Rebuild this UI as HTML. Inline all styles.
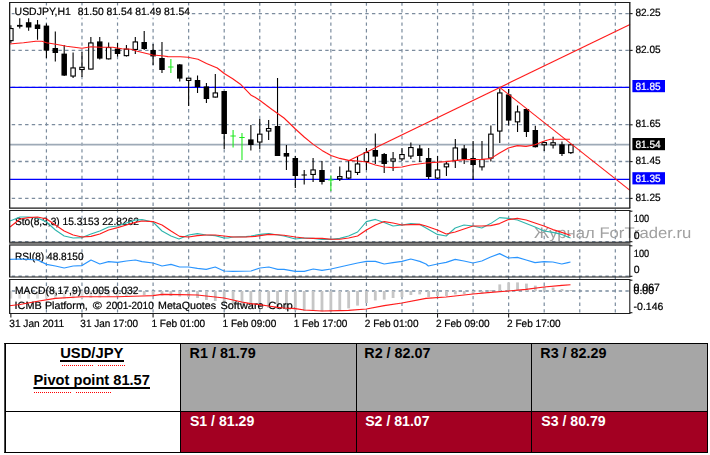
<!DOCTYPE html><html><head><meta charset="utf-8"><style>html,body{margin:0;padding:0;background:#fff}svg{display:block}text{font-family:'Liberation Sans',sans-serif;text-rendering:geometricPrecision}.tb text{text-rendering:auto}</style></head><body>
<svg width="710" height="455" viewBox="0 0 710 455">
<rect width="710" height="455" fill="#fff"/>
<defs><clipPath id="cm"><rect x="9.65" y="2.4" width="620.15" height="205.6"/></clipPath></defs>
<defs><filter id="bl" x="-2%" y="-2%" width="104%" height="104%"><feGaussianBlur stdDeviation="0.40"/></filter></defs>
<g filter="url(#bl)">
<g stroke="#7b8c9e" stroke-width="1.2" stroke-dasharray="3.4 3.27" fill="none">
<path d="M46.42 2.4V313.4"/>
<path d="M81.98 2.4V313.4"/>
<path d="M117.53 2.4V313.4"/>
<path d="M153.09 2.4V313.4"/>
<path d="M188.64 2.4V313.4"/>
<path d="M224.20 2.4V313.4"/>
<path d="M259.76 2.4V313.4"/>
<path d="M295.31 2.4V313.4"/>
<path d="M330.87 2.4V313.4"/>
<path d="M366.42 2.4V313.4"/>
<path d="M401.98 2.4V313.4"/>
<path d="M437.54 2.4V313.4"/>
<path d="M473.09 2.4V313.4"/>
<path d="M508.65 2.4V313.4"/>
<path d="M544.20 2.4V313.4"/>
<path d="M579.76 2.4V313.4"/>
<path d="M615.32 2.4V313.4"/>
<path d="M9.65 13.60H629.80" stroke-dashoffset="-2.1" stroke-width="1.4"/>
<path d="M9.65 50.40H629.80" stroke-dashoffset="-2.1" stroke-width="1.4"/>
<path d="M9.65 87.40H629.80" stroke-dashoffset="-2.1" stroke-width="1.4"/>
<path d="M9.65 124.60H629.80" stroke-dashoffset="-2.1" stroke-width="1.4"/>
<path d="M9.65 161.50H629.80" stroke-dashoffset="-2.1" stroke-width="1.4"/>
<path d="M9.65 198.40H629.80" stroke-dashoffset="-2.1" stroke-width="1.4"/>
<path d="M9.65 241.60H629.80" stroke-dashoffset="-2.1" stroke-width="1.4"/>
<path d="M9.65 276.10H629.80" stroke-dashoffset="-2.1" stroke-width="1.4"/>
<path d="M9.65 291.00H629.80" stroke-dashoffset="-2.1" stroke-width="1.4"/>
</g>
<text x="534.00" y="238.00" font-size="15.40" fill="#a0a0a0" textLength="157.4" lengthAdjust="spacingAndGlyphs" >Журнал ForTrader.ru</text>
<rect x="14.5" y="5.6" width="176" height="12" fill="#fff"/>
<text x="14.60" y="15.35" font-size="10.50" fill="#000" stroke="#000" stroke-width="0.22" textLength="56.2" lengthAdjust="spacingAndGlyphs" >USDJPY,H1</text>
<text x="77.80" y="15.35" font-size="10.50" fill="#000" stroke="#000" stroke-width="0.22" textLength="112.2" lengthAdjust="spacingAndGlyphs" >81.50 81.54 81.49 81.54</text>
<path d="M9.65 144.6H629.80" stroke="#9eaab7" stroke-width="1.8"/>
<path d="M9.65 87.4H629.80" stroke="#0000ff" stroke-width="1.15"/>
<path d="M9.65 179.3H629.80" stroke="#0000ff" stroke-width="1.15"/>
<g fill="#c6c6c6">
<rect x="9.46" y="291.00" width="2.8" height="7.60" fill="#dcdcdc"/>
<rect x="18.35" y="291.00" width="2.8" height="7.60" fill="#dcdcdc"/>
<rect x="27.24" y="291.00" width="2.8" height="7.60" fill="#dcdcdc"/>
<rect x="36.13" y="291.00" width="2.8" height="7.60" fill="#dcdcdc"/>
<rect x="45.02" y="291.00" width="2.8" height="7.60" fill="#dcdcdc"/>
<rect x="53.91" y="291.00" width="2.8" height="7.60" fill="#dcdcdc"/>
<rect x="62.80" y="291.00" width="2.8" height="7.60" fill="#dcdcdc"/>
<rect x="71.69" y="291.00" width="2.8" height="7.40" fill="#dcdcdc"/>
<rect x="80.58" y="291.00" width="2.8" height="7.20" fill="#dcdcdc"/>
<rect x="89.46" y="291.00" width="2.8" height="7.00" fill="#dcdcdc"/>
<rect x="98.35" y="291.00" width="2.8" height="6.60" fill="#dcdcdc"/>
<rect x="107.24" y="291.00" width="2.8" height="6.00" fill="#dcdcdc"/>
<rect x="116.13" y="291.00" width="2.8" height="5.00" fill="#dcdcdc"/>
<rect x="125.02" y="291.00" width="2.8" height="5.00" fill="#dcdcdc"/>
<rect x="133.91" y="291.00" width="2.8" height="4.00" fill="#dcdcdc"/>
<rect x="142.80" y="291.00" width="2.8" height="4.00"/>
<rect x="151.69" y="291.00" width="2.8" height="4.00"/>
<rect x="160.58" y="291.00" width="2.8" height="4.50"/>
<rect x="169.47" y="291.00" width="2.8" height="5.00"/>
<rect x="178.35" y="291.00" width="2.8" height="5.50"/>
<rect x="187.24" y="291.00" width="2.8" height="6.00"/>
<rect x="196.13" y="291.00" width="2.8" height="7.00"/>
<rect x="205.02" y="291.00" width="2.8" height="9.00"/>
<rect x="213.91" y="291.00" width="2.8" height="10.00"/>
<rect x="222.80" y="291.00" width="2.8" height="11.00"/>
<rect x="231.69" y="291.00" width="2.8" height="12.60"/>
<rect x="240.58" y="291.00" width="2.8" height="14.00"/>
<rect x="249.47" y="291.00" width="2.8" height="15.00"/>
<rect x="258.36" y="291.00" width="2.8" height="16.00"/>
<rect x="267.25" y="291.00" width="2.8" height="17.00"/>
<rect x="276.13" y="291.00" width="2.8" height="18.00"/>
<rect x="285.02" y="291.00" width="2.8" height="19.00"/>
<rect x="293.91" y="291.00" width="2.8" height="19.40"/>
<rect x="302.80" y="291.00" width="2.8" height="20.00"/>
<rect x="311.69" y="291.00" width="2.8" height="20.00"/>
<rect x="320.58" y="291.00" width="2.8" height="20.40"/>
<rect x="329.47" y="291.00" width="2.8" height="20.40"/>
<rect x="338.36" y="291.00" width="2.8" height="20.00"/>
<rect x="347.25" y="291.00" width="2.8" height="17.40"/>
<rect x="356.13" y="291.00" width="2.8" height="14.60"/>
<rect x="365.02" y="291.00" width="2.8" height="12.00"/>
<rect x="373.91" y="291.00" width="2.8" height="9.40"/>
<rect x="382.80" y="291.00" width="2.8" height="8.60"/>
<rect x="391.69" y="291.00" width="2.8" height="7.00"/>
<rect x="400.58" y="291.00" width="2.8" height="6.00"/>
<rect x="409.47" y="291.00" width="2.8" height="4.00"/>
<rect x="418.36" y="291.00" width="2.8" height="3.40"/>
<rect x="427.25" y="291.00" width="2.8" height="6.00"/>
<rect x="436.14" y="291.00" width="2.8" height="5.00"/>
<rect x="445.03" y="291.00" width="2.8" height="5.00"/>
<rect x="453.91" y="291.00" width="2.8" height="3.40"/>
<rect x="462.80" y="291.00" width="2.8" height="3.00"/>
<rect x="471.69" y="291.00" width="2.8" height="3.00"/>
<rect x="480.58" y="291.00" width="2.8" height="2.60"/>
<rect x="489.47" y="290.00" width="2.8" height="1.00"/>
<rect x="498.36" y="284.40" width="2.8" height="6.60"/>
<rect x="507.25" y="282.40" width="2.8" height="8.60"/>
<rect x="516.14" y="282.40" width="2.8" height="8.60"/>
<rect x="525.03" y="283.60" width="2.8" height="7.40"/>
<rect x="533.91" y="285.60" width="2.8" height="5.40"/>
<rect x="542.80" y="287.00" width="2.8" height="4.00"/>
<rect x="551.69" y="287.60" width="2.8" height="3.40"/>
<rect x="560.58" y="289.00" width="2.8" height="2.00"/>
<rect x="569.47" y="290.00" width="2.8" height="1.00"/>
</g>
<text x="15.00" y="225.30" font-size="10.50" fill="#000" stroke="#000" stroke-width="0.22" textLength="124.0" lengthAdjust="spacingAndGlyphs" >Sto(8,3,3) 15.3153 22.8262</text>
<text x="15.00" y="259.80" font-size="10.50" fill="#000" stroke="#000" stroke-width="0.22" textLength="68.6" lengthAdjust="spacingAndGlyphs" >RSI(8) 48.8150</text>
<text x="15.00" y="294.00" font-size="10.50" fill="#000" stroke="#000" stroke-width="0.22" textLength="123.6" lengthAdjust="spacingAndGlyphs" >MACD(8,17,9) 0.005 0.032</text>
<text x="14.60" y="309.10" font-size="10.50" fill="#000" stroke="#000" stroke-width="0.22" textLength="27.1" lengthAdjust="spacingAndGlyphs" >ICMB</text>
<text x="44.90" y="309.10" font-size="10.50" fill="#000" stroke="#000" stroke-width="0.22" textLength="42.9" lengthAdjust="spacingAndGlyphs" >Platform,</text>
<text x="92.80" y="309.10" font-size="10.50" fill="#000" stroke="#000" stroke-width="0.22" textLength="9.1" lengthAdjust="spacingAndGlyphs" >©</text>
<text x="106.10" y="309.10" font-size="10.50" fill="#000" stroke="#000" stroke-width="0.22" textLength="47.6" lengthAdjust="spacingAndGlyphs" >2001-2010</text>
<text x="158.00" y="309.10" font-size="10.50" fill="#000" stroke="#000" stroke-width="0.22" textLength="58.1" lengthAdjust="spacingAndGlyphs" >MetaQuotes</text>
<text x="220.40" y="309.10" font-size="10.50" fill="#000" stroke="#000" stroke-width="0.22" textLength="43.3" lengthAdjust="spacingAndGlyphs" >Software</text>
<text x="268.30" y="309.10" font-size="10.50" fill="#000" stroke="#000" stroke-width="0.22" textLength="27.5" lengthAdjust="spacingAndGlyphs" >Corp.</text>
<g stroke="#000" stroke-width="1.1" fill="none" clip-path="url(#cm)">
<path d="M10.86 25.30V43.00"/>
<rect x="8.66" y="28.55" width="4.4" height="12.10" fill="#fff"/>
<path d="M19.75 18.20V28.50"/>
<rect x="17.00" y="24.90" width="5.5" height="1.80" fill="#000" stroke="none"/>
<path d="M28.64 18.20V30.80"/>
<rect x="25.89" y="22.20" width="5.5" height="5.30" fill="#000" stroke="none"/>
<path d="M37.53 20.00V39.70"/>
<rect x="34.78" y="24.50" width="5.5" height="4.50" fill="#000" stroke="none"/>
<path d="M46.42 23.60V58.00"/>
<rect x="43.67" y="25.60" width="5.5" height="25.00" fill="#000" stroke="none"/>
<path d="M55.31 31.40V61.60"/>
<rect x="52.56" y="48.00" width="5.5" height="5.00" fill="#000" stroke="none"/>
<path d="M64.20 45.00V76.00"/>
<rect x="61.45" y="53.60" width="5.5" height="22.00" fill="#000" stroke="none"/>
<path d="M73.09 52.40V78.00"/>
<rect x="70.89" y="67.95" width="4.4" height="8.10" fill="#fff"/>
<path d="M81.98 52.00V77.00"/>
<rect x="79.78" y="67.30" width="4.4" height="2.20" fill="#fff"/>
<path d="M90.86 37.00V69.60"/>
<rect x="88.66" y="42.95" width="4.4" height="26.10" fill="#fff"/>
<path d="M99.75 37.00V59.40"/>
<rect x="97.00" y="41.40" width="5.5" height="17.20" fill="#000" stroke="none"/>
<path d="M108.64 42.40V59.40"/>
<rect x="106.44" y="47.55" width="4.4" height="11.30" fill="#fff"/>
<path d="M117.53 43.00V56.60"/>
<rect x="114.78" y="48.60" width="5.5" height="5.40" fill="#000" stroke="none"/>
<path d="M126.42 45.00V56.60"/>
<rect x="124.22" y="49.15" width="4.4" height="6.50" fill="#fff"/>
<path d="M135.31 37.00V54.00"/>
<rect x="133.11" y="41.95" width="4.4" height="7.50" fill="#fff"/>
<path d="M144.20 31.00V50.00"/>
<rect x="141.45" y="42.00" width="5.5" height="7.00" fill="#000" stroke="none"/>
<path d="M153.09 44.00V65.00"/>
<rect x="150.34" y="50.00" width="5.5" height="6.40" fill="#000" stroke="none"/>
<path d="M161.98 42.00V73.00"/>
<rect x="159.23" y="58.00" width="5.5" height="12.00" fill="#000" stroke="none"/>
<path d="M170.87 59.00V73.00M168.17 67.00H173.57" stroke="#1eea1e"/>
<path d="M179.75 64.00V81.60"/>
<rect x="177.00" y="64.40" width="5.5" height="14.20" fill="#000" stroke="none"/>
<path d="M188.64 78.00V106.00"/>
<rect x="186.44" y="78.20" width="4.4" height="2.20" fill="#fff"/>
<path d="M197.53 75.60V93.00"/>
<rect x="194.78" y="80.00" width="5.5" height="7.00" fill="#000" stroke="none"/>
<path d="M206.42 83.00V103.00"/>
<rect x="203.67" y="86.40" width="5.5" height="12.60" fill="#000" stroke="none"/>
<path d="M215.31 74.00V97.60"/>
<rect x="213.11" y="92.95" width="4.4" height="4.10" fill="#fff"/>
<path d="M224.20 91.00V149.00"/>
<rect x="221.45" y="91.00" width="5.5" height="43.00" fill="#000" stroke="none"/>
<path d="M233.09 130.00V147.60M230.39 136.00H235.79" stroke="#1eea1e"/>
<path d="M241.98 133.00V160.00M239.28 137.50H244.68" stroke="#1eea1e"/>
<path d="M250.87 125.00V150.40"/>
<rect x="248.12" y="139.40" width="5.5" height="5.60" fill="#000" stroke="none"/>
<path d="M259.76 119.00V149.00"/>
<rect x="257.56" y="134.15" width="4.4" height="7.90" fill="#fff"/>
<path d="M268.64 120.00V140.00"/>
<rect x="266.44" y="128.55" width="4.4" height="2.50" fill="#fff"/>
<path d="M277.53 78.00V156.00"/>
<rect x="274.78" y="126.00" width="5.5" height="30.00" fill="#000" stroke="none"/>
<path d="M286.42 145.00V170.00"/>
<rect x="283.67" y="153.00" width="5.5" height="3.60" fill="#000" stroke="none"/>
<path d="M295.31 156.00V188.00"/>
<rect x="292.56" y="158.00" width="5.5" height="18.00" fill="#000" stroke="none"/>
<path d="M304.20 170.00V184.40M301.50 175.00H306.90"/>
<path d="M313.09 158.00V182.00"/>
<rect x="310.89" y="169.95" width="4.4" height="4.50" fill="#fff"/>
<path d="M321.98 161.00V184.40"/>
<rect x="319.23" y="170.00" width="5.5" height="12.00" fill="#000" stroke="none"/>
<path d="M330.87 175.40V191.00M328.17 180.00H333.57" stroke="#1eea1e"/>
<path d="M339.76 166.60V181.00"/>
<rect x="337.56" y="176.60" width="4.4" height="2.20" fill="#fff"/>
<path d="M348.65 160.00V179.00"/>
<rect x="346.45" y="171.15" width="4.4" height="6.90" fill="#fff"/>
<path d="M357.53 156.00V175.00"/>
<rect x="355.33" y="163.95" width="4.4" height="8.50" fill="#fff"/>
<path d="M366.42 148.00V170.00"/>
<rect x="364.22" y="152.55" width="4.4" height="8.90" fill="#fff"/>
<path d="M375.31 133.40V164.00"/>
<rect x="372.56" y="150.00" width="5.5" height="6.60" fill="#000" stroke="none"/>
<path d="M384.20 153.00V173.00"/>
<rect x="381.45" y="154.00" width="5.5" height="10.00" fill="#000" stroke="none"/>
<path d="M393.09 152.00V171.00"/>
<rect x="390.89" y="158.90" width="4.4" height="2.20" fill="#fff"/>
<path d="M401.98 148.00V161.00"/>
<rect x="399.78" y="154.55" width="4.4" height="4.30" fill="#fff"/>
<path d="M410.87 142.60V159.00"/>
<rect x="408.67" y="147.55" width="4.4" height="8.50" fill="#fff"/>
<path d="M419.76 145.00V162.00"/>
<rect x="417.01" y="148.40" width="5.5" height="7.60" fill="#000" stroke="none"/>
<path d="M428.65 148.00V179.00"/>
<rect x="425.90" y="158.00" width="5.5" height="19.00" fill="#000" stroke="none"/>
<path d="M437.54 156.00V179.00"/>
<rect x="435.34" y="169.95" width="4.4" height="8.10" fill="#fff"/>
<path d="M446.43 162.00V176.00"/>
<rect x="444.23" y="163.95" width="4.4" height="2.90" fill="#fff"/>
<path d="M455.31 139.00V168.00"/>
<rect x="453.11" y="147.95" width="4.4" height="12.50" fill="#fff"/>
<path d="M464.20 145.00V164.00"/>
<rect x="461.45" y="148.40" width="5.5" height="10.60" fill="#000" stroke="none"/>
<path d="M473.09 141.00V180.00"/>
<rect x="470.34" y="158.00" width="5.5" height="7.00" fill="#000" stroke="none"/>
<path d="M481.98 141.00V170.60"/>
<rect x="479.78" y="159.55" width="4.4" height="7.30" fill="#fff"/>
<path d="M490.87 125.60V161.60"/>
<rect x="488.67" y="134.15" width="4.4" height="23.90" fill="#fff"/>
<path d="M499.76 88.40V143.00"/>
<rect x="497.56" y="92.95" width="4.4" height="38.10" fill="#fff"/>
<path d="M508.65 89.00V125.60"/>
<rect x="505.90" y="94.40" width="5.5" height="26.20" fill="#000" stroke="none"/>
<path d="M517.54 105.60V132.00"/>
<rect x="515.34" y="111.95" width="4.4" height="9.90" fill="#fff"/>
<path d="M526.43 108.60V137.00"/>
<rect x="523.68" y="109.00" width="5.5" height="23.00" fill="#000" stroke="none"/>
<path d="M535.31 125.70V147.40"/>
<rect x="532.56" y="130.00" width="5.5" height="17.20" fill="#000" stroke="none"/>
<path d="M544.20 141.50V151.00"/>
<rect x="542.00" y="142.60" width="4.4" height="2.20" fill="#fff"/>
<path d="M553.09 136.70V148.50"/>
<rect x="550.89" y="142.75" width="4.4" height="2.20" fill="#fff"/>
<path d="M561.98 141.50V156.00"/>
<rect x="559.23" y="144.30" width="5.5" height="9.70" fill="#000" stroke="none"/>
<path d="M570.87 144.30V154.00"/>
<rect x="568.67" y="144.85" width="4.4" height="7.80" fill="#fff"/>
</g>
<path d="M9.4 44.0 L23.5 42.8 L35.8 41.2 L42.0 41.2 L46.5 42.8 L55.8 44.3 L66.5 46.2 L82.0 48.2 L91.2 46.8 L100.4 47.3 L112.7 47.3 L121.9 48.8 L131.2 49.3 L137.3 51.2 L146.5 53.5 L152.7 55.0 L161.9 55.8 L168.0 56.6 L180.4 56.8 L188.0 57.3 L198.0 59.3 L206.5 63.5 L217.3 68.0 L224.2 73.5 L232.7 78.8 L240.4 84.2 L245.0 88.8 L251.2 95.3 L255.0 97.3 L260.0 100.5 L272.0 109.5 L284.0 118.0 L295.4 129.0 L304.2 137.0 L313.2 144.4 L322.0 150.4 L331.0 155.6 L339.8 158.4 L348.6 160.4 L357.6 161.0 L366.4 162.0 L375.4 165.0 L384.2 167.0 L393.0 167.6 L402.0 167.0 L410.8 165.0 L426.0 163.0 L446.0 161.6 L464.0 159.6 L482.0 159.4 L490.6 158.6 L499.6 153.0 L508.4 148.0 L517.4 145.6 L526.0 146.4 L535.0 144.7 L544.3 141.0 L550.4 139.3 L570.0 139.3" stroke="#ff1a1a" stroke-width="1.10" fill="none" stroke-linejoin="round"/>
<path d="M348 161L630 24.4" stroke="#ff1a1a" stroke-width="1.1"/>
<path d="M500 87.6L630 190.4" stroke="#ff1a1a" stroke-width="1.1"/>
<path d="M10.0 221.0 L20.0 217.0 L28.0 217.0 L37.6 218.0 L46.6 222.0 L55.4 230.0 L64.2 236.0 L73.2 238.0 L82.0 237.6 L91.0 234.0 L99.8 231.0 L108.6 227.0 L117.6 226.0 L126.4 223.0 L135.4 220.0 L142.0 219.6 L153.0 222.0 L162.0 231.0 L171.0 236.0 L179.0 239.0 L188.6 235.0 L197.4 233.6 L206.2 235.0 L215.2 235.6 L224.0 238.0 L228.0 238.0 L233.0 237.0 L246.0 236.6 L251.0 236.0 L260.0 234.4 L268.8 233.6 L277.8 235.0 L284.0 236.0 L295.4 239.0 L304.2 238.0 L313.2 238.4 L322.0 239.4 L331.0 239.4 L339.8 238.4 L348.6 236.0 L357.6 232.0 L366.4 221.6 L375.4 219.4 L384.2 222.4 L393.0 226.0 L402.0 225.0 L410.8 223.6 L419.8 224.4 L426.0 228.0 L437.4 234.4 L446.2 236.0 L455.2 228.0 L464.0 225.0 L473.0 226.0 L481.8 228.0 L490.6 223.6 L499.6 217.6 L508.4 218.4 L517.4 220.0 L526.2 223.6 L535.0 227.0 L544.0 231.0 L552.8 232.4 L561.8 234.4 L568.0 237.0 L570.5 238.0" stroke="#2fb5ad" stroke-width="1.10" fill="none" stroke-linejoin="round"/>
<path d="M10.0 227.0 L15.0 223.0 L20.0 219.0 L28.6 217.6 L37.6 217.0 L46.6 219.0 L55.4 225.0 L64.2 231.0 L73.2 235.0 L82.0 237.0 L91.0 236.4 L99.8 234.0 L108.6 230.0 L117.6 227.6 L126.4 225.0 L135.4 222.4 L142.0 221.0 L153.0 221.6 L162.0 225.0 L171.0 231.0 L179.6 236.4 L188.6 237.0 L197.4 235.6 L206.2 235.0 L215.2 235.0 L224.0 236.0 L233.0 237.0 L246.0 237.0 L255.0 236.4 L260.0 235.6 L268.8 234.4 L277.8 234.8 L284.0 235.2 L295.4 237.0 L304.2 238.0 L313.2 238.4 L322.0 238.4 L331.0 239.2 L339.8 239.2 L348.6 238.0 L357.6 236.0 L366.4 230.0 L375.4 225.0 L384.2 221.6 L393.0 223.0 L402.0 225.0 L410.8 224.6 L419.8 224.4 L426.0 226.0 L437.4 230.0 L446.2 234.0 L455.2 232.0 L464.0 229.0 L473.0 226.0 L481.8 226.0 L490.6 225.6 L499.6 223.6 L508.4 219.6 L517.4 218.4 L526.2 220.0 L535.0 223.0 L544.0 226.0 L552.8 229.6 L561.8 232.4 L568.0 234.4 L570.5 235.5" stroke="#ff1a1a" stroke-width="1.10" fill="none" stroke-linejoin="round"/>
<path d="M10.0 259.4 L20.0 259.0 L28.6 259.4 L37.6 260.0 L46.6 264.4 L55.4 266.0 L64.2 268.0 L73.2 266.0 L82.0 265.6 L91.0 260.0 L99.8 264.0 L108.6 261.6 L117.6 262.4 L126.4 261.0 L135.4 260.0 L142.0 261.6 L153.0 263.0 L162.0 266.0 L171.0 264.4 L179.6 267.0 L188.6 267.0 L197.4 268.4 L206.2 269.4 L215.2 267.0 L224.0 271.0 L233.0 271.4 L251.0 271.0 L260.0 268.0 L268.8 267.0 L277.8 269.4 L284.0 269.4 L295.4 271.4 L304.2 271.4 L313.2 269.0 L322.0 270.4 L331.0 269.0 L339.8 267.0 L348.6 265.0 L357.6 263.0 L366.4 261.4 L375.4 261.4 L384.2 264.0 L393.0 262.6 L402.0 261.4 L410.8 259.0 L419.8 261.4 L426.0 264.0 L428.4 266.0 L437.4 264.0 L446.2 262.4 L455.2 259.4 L464.0 261.0 L473.0 263.0 L481.8 261.0 L490.6 257.0 L499.6 253.6 L508.4 258.0 L517.4 257.4 L526.2 260.0 L535.0 262.6 L544.0 261.6 L552.8 262.0 L561.8 264.0 L568.0 262.6 L570.5 262.0" stroke="#2a95ff" stroke-width="1.20" fill="none" stroke-linejoin="round"/>
<path d="M9.4 305.7 L20.0 304.5 L37.6 301.2 L55.4 298.4 L82.0 296.8 L117.0 296.7 L142.0 296.0 L153.0 295.6 L162.0 294.4 L179.6 294.6 L197.4 295.0 L206.2 296.0 L215.2 297.0 L224.0 298.0 L233.0 300.0 L241.8 302.0 L250.6 303.6 L259.6 304.6 L268.4 306.0 L277.4 307.4 L284.0 308.0 L295.4 308.6 L304.2 310.0 L322.0 311.0 L339.8 310.6 L348.6 310.4 L366.4 309.0 L384.2 305.6 L402.0 303.0 L426.0 298.4 L446.0 297.0 L473.0 294.0 L490.6 292.4 L508.4 291.0 L526.0 289.4 L544.0 287.0 L562.0 285.4 L570.5 284.8" stroke="#ff1a1a" stroke-width="1.10" fill="none" stroke-linejoin="round"/>
</g>
<defs><filter id="bl2" x="-2%" y="-2%" width="104%" height="104%"><feGaussianBlur stdDeviation="0.28"/></filter></defs>
<g filter="url(#bl2)">
<rect x="9.05" y="242.8" width="621.35" height="2.9" fill="#7c7c7c"/>
<g stroke="#1c1c1c" stroke-width="1.1" fill="none">
<path d="M9.05 2.55H630.40"/><path d="M9.05 208.10H630.40"/>
<path d="M9.65 2.55V208.10" stroke-width="1.35"/><path d="M629.80 2.55V208.10" stroke-width="1.35"/>
<path d="M9.05 210.50H630.40"/><path d="M9.05 242.25H630.40"/>
<path d="M9.65 210.50V242.25" stroke-width="1.35"/><path d="M629.80 210.50V242.25" stroke-width="1.10"/>
<path d="M9.05 245.10H630.40" stroke="#6a6a6a"/><path d="M9.05 277.00H630.40"/>
<path d="M9.65 245.10V277.00" stroke-width="1.35"/><path d="M629.80 245.10V277.00" stroke-width="1.10"/>
<path d="M9.05 279.50H630.40"/><path d="M9.05 313.45H630.40"/>
<path d="M9.65 279.50V313.45" stroke-width="1.35"/><path d="M629.80 279.50V313.45" stroke-width="1.10"/>
<path d="M629.80 13.60h2.8"/>
<path d="M629.80 50.40h2.8"/>
<path d="M629.80 124.80h2.8"/>
<path d="M629.80 161.60h2.8"/>
<path d="M629.80 198.40h2.8"/>
<path d="M629.80 211.20h2.6"/>
<path d="M629.80 241.70h2.6"/>
<path d="M629.80 245.80h2.6"/>
<path d="M629.80 276.30h2.6"/>
<path d="M629.80 280.20h2.6"/>
<path d="M629.80 312.70h2.6"/>
<path d="M10.86 313.4v4.2"/>
<path d="M81.97 313.4v4.2"/>
<path d="M153.08 313.4v4.2"/>
<path d="M224.19 313.4v4.2"/>
<path d="M295.30 313.4v4.2"/>
<path d="M366.41 313.4v4.2"/>
<path d="M437.52 313.4v4.2"/>
<path d="M508.63 313.4v4.2"/>
</g>
</g>
<g filter="url(#bl)">
<text x="635.40" y="16.10" font-size="10.50" fill="#000" stroke="#000" stroke-width="0.22" textLength="25.2" lengthAdjust="spacingAndGlyphs" >82.25</text>
<text x="635.40" y="52.90" font-size="10.50" fill="#000" stroke="#000" stroke-width="0.22" textLength="25.2" lengthAdjust="spacingAndGlyphs" >82.05</text>
<text x="635.40" y="127.30" font-size="10.50" fill="#000" stroke="#000" stroke-width="0.22" textLength="25.2" lengthAdjust="spacingAndGlyphs" >81.65</text>
<text x="635.40" y="164.10" font-size="10.50" fill="#000" stroke="#000" stroke-width="0.22" textLength="25.2" lengthAdjust="spacingAndGlyphs" >81.45</text>
<text x="635.40" y="200.90" font-size="10.50" fill="#000" stroke="#000" stroke-width="0.22" textLength="25.2" lengthAdjust="spacingAndGlyphs" >81.25</text>
<rect x="632.4" y="80" width="32.6" height="12.2" fill="#0000ff"/>
<text x="635.40" y="89.80" font-size="10.50" fill="#fff" stroke="#fff" stroke-width="0.22" textLength="25.2" lengthAdjust="spacingAndGlyphs" >81.85</text>
<rect x="632.4" y="172.2" width="32.6" height="12.2" fill="#0000ff"/>
<text x="635.40" y="181.90" font-size="10.50" fill="#fff" stroke="#fff" stroke-width="0.22" textLength="25.2" lengthAdjust="spacingAndGlyphs" >81.35</text>
<rect x="632.4" y="138" width="32.6" height="12.2" fill="#000"/>
<text x="635.40" y="147.70" font-size="10.50" fill="#fff" stroke="#fff" stroke-width="0.22" textLength="25.2" lengthAdjust="spacingAndGlyphs" >81.54</text>
<text x="633.80" y="222.00" font-size="10.50" fill="#000" stroke="#000" stroke-width="0.22" textLength="15.4" lengthAdjust="spacingAndGlyphs" >100</text>
<text x="633.80" y="239.20" font-size="10.50" fill="#000" stroke="#000" stroke-width="0.22" >0</text>
<text x="633.80" y="256.60" font-size="10.50" fill="#000" stroke="#000" stroke-width="0.22" textLength="15.4" lengthAdjust="spacingAndGlyphs" >100</text>
<text x="633.80" y="273.20" font-size="10.50" fill="#000" stroke="#000" stroke-width="0.22" >0</text>
<text x="633.60" y="290.60" font-size="10.50" fill="#000" stroke="#000" stroke-width="0.22" >0.067</text>
<text x="633.60" y="294.40" font-size="10.50" fill="#000" stroke="#000" stroke-width="0.22" >0.00</text>
<text x="633.60" y="310.20" font-size="10.50" fill="#000" stroke="#000" stroke-width="0.22" >-0.146</text>
<text x="9.26" y="327.20" font-size="10.50" fill="#000" stroke="#000" stroke-width="0.22" textLength="55.0" lengthAdjust="spacingAndGlyphs" >31 Jan 2011</text>
<text x="80.37" y="327.20" font-size="10.50" fill="#000" stroke="#000" stroke-width="0.22" textLength="57.7" lengthAdjust="spacingAndGlyphs" >31 Jan 17:00</text>
<text x="151.48" y="327.20" font-size="10.50" fill="#000" stroke="#000" stroke-width="0.22" textLength="53.7" lengthAdjust="spacingAndGlyphs" >1 Feb 01:00</text>
<text x="222.59" y="327.20" font-size="10.50" fill="#000" stroke="#000" stroke-width="0.22" textLength="53.7" lengthAdjust="spacingAndGlyphs" >1 Feb 09:00</text>
<text x="293.70" y="327.20" font-size="10.50" fill="#000" stroke="#000" stroke-width="0.22" textLength="53.7" lengthAdjust="spacingAndGlyphs" >1 Feb 17:00</text>
<text x="364.81" y="327.20" font-size="10.50" fill="#000" stroke="#000" stroke-width="0.22" textLength="53.7" lengthAdjust="spacingAndGlyphs" >2 Feb 01:00</text>
<text x="435.92" y="327.20" font-size="10.50" fill="#000" stroke="#000" stroke-width="0.22" textLength="53.7" lengthAdjust="spacingAndGlyphs" >2 Feb 09:00</text>
<text x="507.03" y="327.20" font-size="10.50" fill="#000" stroke="#000" stroke-width="0.22" textLength="53.7" lengthAdjust="spacingAndGlyphs" >2 Feb 17:00</text>
</g>
<rect x="180" y="343" width="528" height="69" fill="#a6a6a6"/>
<rect x="180" y="411" width="528" height="42" fill="#a30022"/>
<g stroke="#000" stroke-width="1" fill="none">
<path d="M4.3 343.5H708M4.3 452.5H708M707.5 343V453M5 411.5H708M180.5 343V453M356.5 343V453M531.5 343V453"/>
<path d="M5.15 343V453" stroke-width="1.7"/>
</g>
<g class="tb">
<text x="189.60" y="357.90" font-size="14.67" fill="#000" textLength="66.2" lengthAdjust="spacingAndGlyphs" font-weight="bold">R1 / 81.79</text>
<text x="364.30" y="357.90" font-size="14.67" fill="#000" textLength="66.2" lengthAdjust="spacingAndGlyphs" font-weight="bold">R2 / 82.07</text>
<text x="540.30" y="357.90" font-size="14.67" fill="#000" textLength="66.2" lengthAdjust="spacingAndGlyphs" font-weight="bold">R3 / 82.29</text>
<text x="189.90" y="425.60" font-size="14.67" fill="#fff" textLength="64.4" lengthAdjust="spacingAndGlyphs" font-weight="bold">S1 / 81.29</text>
<text x="365.20" y="425.60" font-size="14.67" fill="#fff" textLength="64.4" lengthAdjust="spacingAndGlyphs" font-weight="bold">S2 / 81.07</text>
<text x="541.30" y="425.60" font-size="14.67" fill="#fff" textLength="64.4" lengthAdjust="spacingAndGlyphs" font-weight="bold">S3 / 80.79</text>
<text x="60.20" y="357.80" font-size="14.67" fill="#000" textLength="63.2" lengthAdjust="spacingAndGlyphs" font-weight="bold">USD/JPY</text>
<text x="33.60" y="384.90" font-size="14.67" fill="#000" textLength="116.3" lengthAdjust="spacingAndGlyphs" font-weight="bold">Pivot point 81.57</text>
<path d="M60 361H124M33.4 388H150" stroke="#000" stroke-width="2"/>
<path d="M62 365.5H93M98 365.5H125M34 392.5H71M76 392.5H111" stroke="#f00" stroke-width="1" stroke-dasharray="1 1" shape-rendering="crispEdges"/>
</g>
</svg></body></html>
